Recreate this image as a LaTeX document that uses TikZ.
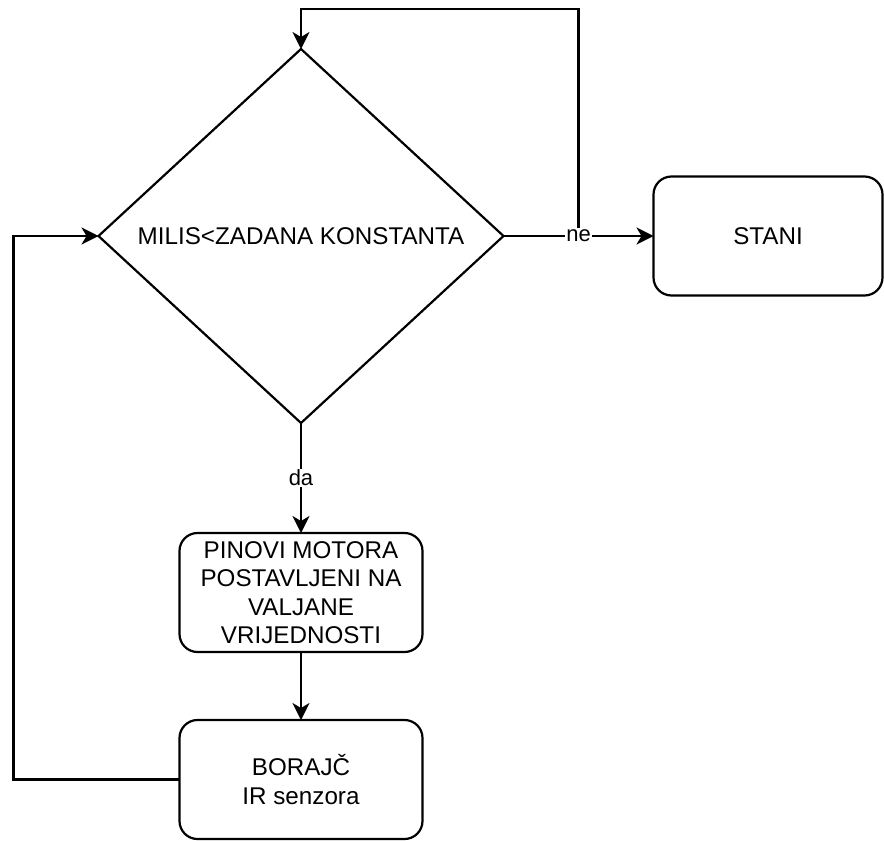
\documentclass[tikz,border=0pt]{standalone}
\usepackage{fontspec}
\setmainfont{Liberation Sans}
\usetikzlibrary{shapes.geometric,arrows.meta}
\begin{document}
\begin{tikzpicture}[x=1pt,y=-1pt,
 line width=2.2pt,
 every node/.style={font=\fontsize{24.2}{28.5}\selectfont},
 box/.style={draw, rounded corners=18pt, minimum width=243pt, minimum height=119pt, align=center, inner sep=0pt, outer sep=0pt},
 dec/.style={draw, diamond, aspect=1.083, minimum width=405pt, minimum height=374pt, inner sep=0pt, outer sep=0pt},
 lbl/.style={fill=white, font=\fontsize{22}{26}\selectfont, inner sep=1pt},
 arr/.style={-{Stealth[length=17pt,width=17pt,inset=5pt]}}]
\useasboundingbox (0,0) rectangle (884,841);
\node[dec] (d) at (301,236) {MILIS<ZADANA KONSTANTA};
\node[box, minimum width=229pt, minimum height=119pt] (s) at (768,236) {STANI};
\node[box] (p) at (301,592.5) {PINOVI MOTORA\\POSTAVLJENI NA\\VALJANE\\VRIJEDNOSTI};
\node[box] (b) at (301,779.5) {BORAJČ\\IR senzora};
\draw[arr] (d.east) -- node[lbl] (ne) {ne} (s.west);
\draw[arr] (ne) -- ++(0,-227) -| (d.north);
\draw[arr] (d.south) -- node[lbl] (da) {da} (p.north);
\draw[arr] (p.south) -- (b.north);
\draw[arr] (b.west) -- ++(-166,0) |- (d.west);
\end{tikzpicture}
\end{document}
